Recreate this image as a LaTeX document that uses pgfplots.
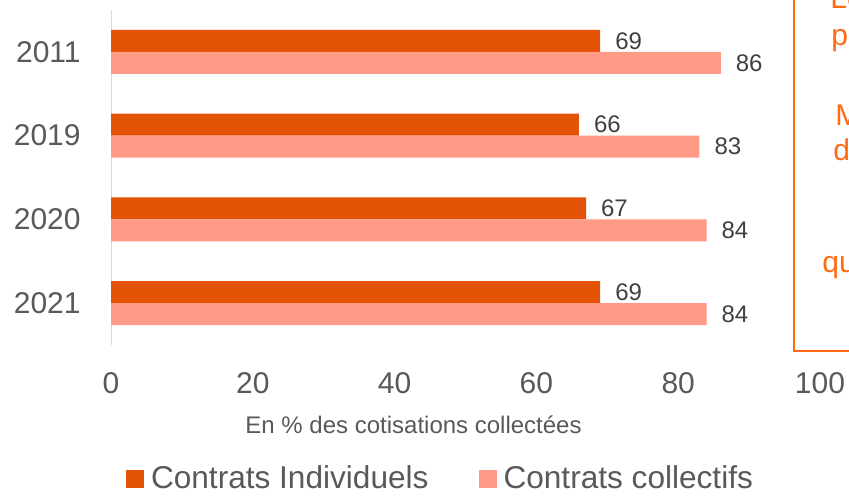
\documentclass[border=0pt]{standalone}
\usepackage{fontspec}
\setmainfont{Liberation Sans}
\usepackage{pgfplots}
\pgfplotsset{compat=1.18}
\definecolor{indiv}{HTML}{E35205}
\definecolor{coll}{HTML}{FF9A86}
\definecolor{boxor}{HTML}{FF6A13}
\definecolor{txtg}{HTML}{595959}
\definecolor{lblg}{HTML}{404040}
\definecolor{axg}{HTML}{D9D9D9}
\begin{document}
\begin{tikzpicture}
\useasboundingbox (0,0) rectangle (424.5pt,247.5pt);
\clip (0,0) rectangle (424.5pt,247.5pt);
\begin{axis}[
  at={(55.5pt,75pt)}, anchor=south west,
  scale only axis, width=354.5pt, height=167.5pt,
  xbar, xmin=0, xmax=100, ymin=-0.5, ymax=3.5, y dir=reverse,
  bar width=0.262,
  axis line style={draw=none}, tick style={draw=none}, major tick length=0pt,
  xtick={0,20,...,100}, ytick={0,1,2,3}, yticklabels={2011,2019,2020,2021},
  /pgf/number format/assume math mode=true,
  xticklabel style={font=\fontsize{15}{18}\selectfont, text=txtg, anchor=center, yshift=-19pt},
  yticklabel style={font=\fontsize{15}{18}\selectfont, text=txtg, anchor=east, inner sep=0pt, xshift=-15pt},
  xlabel={En \% des cotisations collectées},
  xlabel style={font=\fontsize{12}{14}\selectfont, text=txtg, at={(axis description cs:0.4267,-0.2388)}, anchor=center},
  legend style={at={(axis description cs:0.4654,-0.40)}, anchor=center, draw=none, fill=none,
    legend columns=2, font=\fontsize{15.8}{18}\selectfont, text=txtg,
    nodes={inner sep=1.5pt},
    /tikz/every even column/.append style={column sep=23.5pt}},
  legend image code/.code={\fill[#1] (0pt,-4.5pt) rectangle (9pt,4.5pt); \path (11pt,0pt);},
  point meta=x,
  nodes near coords={\pgfmathprintnumber{\pgfplotspointmeta}},
  nodes near coords style={font=\fontsize{12}{14}\selectfont, text=lblg, anchor=west, xshift=4pt},
]
\draw[axg, line width=1pt] (axis cs:0,-0.5) -- (axis cs:0,3.5);
\addplot[fill=indiv, draw=none, bar shift=-0.131] coordinates {(69,0) (66,1) (67,2) (69,3)};
\addplot[fill=coll, draw=none, bar shift=0.131] coordinates {(86,0) (83,1) (84,2) (84,3)};
\legend{Contrats Individuels, Contrats collectifs}
\end{axis}
\draw[boxor, line width=1.25pt] (397pt,260pt) -- (397pt,72pt) -- (440pt,72pt);
\begin{scope}[every node/.style={anchor=base west, text=boxor, font=\fontsize{15}{18}\selectfont, inner sep=0pt}]
\node at (415pt,243.5pt) {Le};
\node at (415.5pt,225pt) {p};
\node at (417.5pt,185pt) {M};
\node at (416.5pt,167.5pt) {d};
\node at (411pt,111.5pt) {qu};
\end{scope}
\end{tikzpicture}
\end{document}
